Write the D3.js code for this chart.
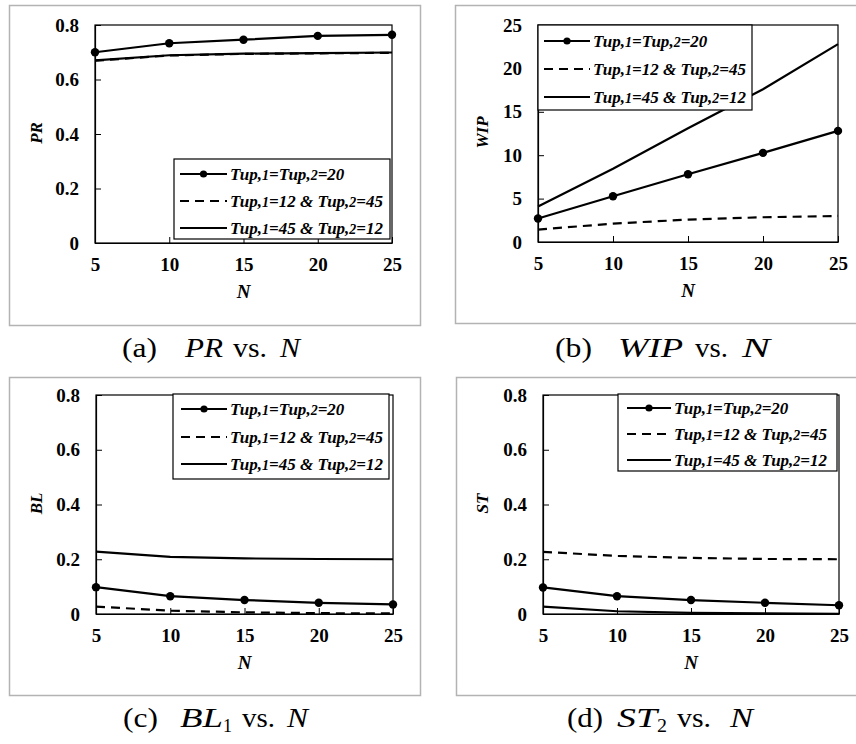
<!DOCTYPE html>
<html>
<head>
<meta charset="utf-8">
<script src="https://cdn.jsdelivr.net/npm/d3@7"></script>
<style>
  html, body { margin: 0; padding: 0; background: #fff; }
  svg { display: block; }
</style>
</head>
<body>
<svg id="chart" width="856" height="744"></svg>
<script>
// ---------- DATA ----------
const N = [5, 10, 15, 20, 25];
const seriesNames = ["Tup,1=Tup,2=20", "Tup,1=12 & Tup,2=45", "Tup,1=45 & Tup,2=12"];

const PR_equal = [0.700, 0.733, 0.746, 0.760, 0.764];
const PR_12_45 = [0.669, 0.688, 0.694, 0.696, 0.698];
const PR_45_12 = [0.670, 0.689, 0.695, 0.697, 0.699];

const WIP_equal = [2.7, 5.27, 7.8, 10.27, 12.8];
const WIP_12_45 = [1.43, 2.12, 2.58, 2.85, 3.0];
const WIP_45_12 = [4.1, 8.45, 13.1, 17.6, 22.8];

const BL_equal = [0.098, 0.065, 0.051, 0.041, 0.035];
const BL_12_45 = [0.027, 0.012, 0.006, 0.003, 0.002];
const BL_45_12 = [0.228, 0.209, 0.203, 0.201, 0.200];

const ST_equal = [0.097, 0.065, 0.051, 0.041, 0.032];
const ST_12_45 = [0.227, 0.212, 0.205, 0.201, 0.200];
const ST_45_12 = [0.027, 0.010, 0.004, 0.002, 0.001];

const yTicksSmall = [0, 0.2, 0.4, 0.6, 0.8];
const yTicksWIP = [0, 5, 10, 15, 20, 25];
const captionTexts = [
  ["(a)", "PR", "", "vs.", "N"],
  ["(b)", "WIP", "", "vs.", "N"],
  ["(c)", "BL", "1", "vs.", "N"],
  ["(d)", "ST", "2", "vs.", "N"]
];
const yTitles = ["PR", "WIP", "BL", "ST"];

// ---------- LAYOUT (pixel positions only) ----------
const panels = [
  {box: [9, 5, 411, 320], plot: [95, 25, 392, 243], yMax: 0.8, yTicks: yTicksSmall,
   data: [PR_equal, PR_12_45, PR_45_12], legend: [174, 159, 390, 239], legX: 180, leg: 227, rows: [174, 201, 228],
   capY: 357, capX: [[122, 35], [185, 38], null, [233, 34], [280, 20]], yTitleX: 42},
  {box: [455, 5, 410, 318], plot: [538, 25, 838, 242], yMax: 25, yTicks: yTicksWIP,
   data: [WIP_equal, WIP_12_45, WIP_45_12], legend: [538, 25, 752, 110], legX: 544, leg: 590, rows: [41, 69, 97],
   capY: 357, capX: [[555, 37], [618, 65], null, [695, 33], [742, 28]], yTitleX: 488},
  {box: [9, 377, 411, 318], plot: [96, 395, 393, 614], yMax: 0.8, yTicks: yTicksSmall,
   data: [BL_equal, BL_12_45, BL_45_12], legend: [173, 394, 389, 479], legX: 181, leg: 227, rows: [409, 437, 464],
   capY: 727, capX: [[123, 35], [180, 43], [223, 9], [242, 33], [287, 21]], yTitleX: 42},
  {box: [456, 377, 410, 318], plot: [543, 395, 839, 614], yMax: 0.8, yTicks: yTicksSmall,
   data: [ST_equal, ST_12_45, ST_45_12], legend: [618, 394, 837, 471], legX: 627, leg: 671, rows: [408, 434, 460],
   capY: 727, capX: [[567, 36], [617, 40], [657, 10], [677, 34], [730, 23]], yTitleX: 488}
];

const svg = d3.select("#chart");
const dashes = [null, "9,6", null];
const SERIF = "Liberation Serif";

function fmtTick(d, yMax) {
  if (yMax > 1) return String(d);
  return d === 0 ? "0" : d.toFixed(1);
}

function legendText(sel, name) {
  const parts = name.split(/(,[12])/);
  parts.forEach(p => {
    if (/^,[12]$/.test(p)) {
      sel.append("tspan").text(",");
      sel.append("tspan").style("font-size", "14px").text(p[1]);
    } else if (p) {
      sel.append("tspan").text(p);
    }
  });
}

panels.forEach((P, i) => {
  const g = svg.append("g");
  g.append("rect").attr("x", P.box[0] + 0.5).attr("y", P.box[1] + 0.5)
    .attr("width", P.box[2]).attr("height", P.box[3])
    .attr("fill", "none").attr("stroke", "#b3b3b3").attr("stroke-width", 1.5);

  const [x0, y0, x1, y1] = P.plot;
  const x = d3.scaleLinear().domain([5, 25]).range([x0, x1]);
  const y = d3.scaleLinear().domain([0, P.yMax]).range([y1, y0]);

  g.append("rect").attr("x", x0).attr("y", y0).attr("width", x1 - x0).attr("height", y1 - y0)
    .attr("fill", "none").attr("stroke", "#000").attr("stroke-width", 1.2);

  const xAxis = g.append("g").attr("transform", `translate(0,${y1})`)
    .call(d3.axisBottom(x).tickValues(N).tickSizeInner(-6).tickSizeOuter(0).tickPadding(15));
  const yAxis = g.append("g").attr("transform", `translate(${x0},0)`)
    .call(d3.axisLeft(y).tickValues(P.yTicks).tickFormat(d => fmtTick(d, P.yMax))
      .tickSizeInner(-6).tickSizeOuter(0).tickPadding(16));
  [xAxis, yAxis].forEach(a => {
    a.attr("font-family", null).attr("font-size", null);
    a.select(".domain").attr("stroke", "#000").attr("stroke-width", 1.2);
    a.selectAll(".tick line").attr("stroke", "#000").attr("stroke-width", 1);
    a.selectAll("text").style("font-family", SERIF).style("font-weight", "bold")
      .style("font-size", "19px").attr("fill", "#000");
  });

  g.append("text").attr("x", (x0 + x1) / 2).attr("y", y1 + 55)
    .attr("text-anchor", "middle").style("font-family", SERIF).style("font-weight", "bold")
    .style("font-style", "italic").style("font-size", "19px").text("N");
  g.append("text").attr("transform", `translate(${P.yTitleX},${(y0 + y1) / 2 - 1}) rotate(-90)`)
    .attr("text-anchor", "middle").style("font-family", SERIF).style("font-weight", "bold")
    .style("font-style", "italic").style("font-size", "17px").text(yTitles[i]);

  const line = d3.line().x((d, k) => x(N[k])).y(d => y(d));
  P.data.forEach((vals, s) => {
    g.append("path").datum(vals).attr("d", line)
      .attr("fill", "none").attr("stroke", "#000").attr("stroke-width", 2.2)
      .attr("stroke-dasharray", dashes[s]);
  });
  g.selectAll("circle.pt").data(P.data[0]).enter().append("circle")
    .attr("cx", (d, k) => x(N[k])).attr("cy", d => y(d)).attr("r", 4.2).attr("fill", "#000");

  const L = P.legend;
  g.append("rect").attr("x", L[0]).attr("y", L[1]).attr("width", L[2] - L[0]).attr("height", L[3] - L[1])
    .attr("fill", "#fff").attr("stroke", "#000").attr("stroke-width", 1.2);
  seriesNames.forEach((name, s) => {
    const ry = P.rows[s];
    g.append("line").attr("x1", P.legX).attr("x2", P.leg).attr("y1", ry).attr("y2", ry)
      .attr("stroke", "#000").attr("stroke-width", 2.2).attr("stroke-dasharray", dashes[s]);
    if (s === 0) g.append("circle").attr("cx", (P.legX + P.leg) / 2).attr("cy", ry).attr("r", 3.6).attr("fill", "#000");
    const t = g.append("text").attr("x", P.leg + 3).attr("y", ry + 6)
      .style("font-family", SERIF).style("font-weight", "bold").style("font-style", "italic")
      .style("font-size", "17px").attr("fill", "#000");
    legendText(t, name);
  });

  // caption pieces
  const parts = captionTexts[i];
  parts.forEach((txt, k) => {
    const pos = P.capX[k];
    if (!txt || !pos) return;
    const isSub = k === 2;
    g.append("text").attr("x", pos[0]).attr("y", P.capY + (isSub ? 5 : 0))
      .attr("textLength", pos[1]).attr("lengthAdjust", "spacingAndGlyphs")
      .style("font-family", SERIF)
      .style("font-style", (k === 1 || k === 4) ? "italic" : "normal")
      .style("font-size", isSub ? "19px" : "28px").attr("fill", "#000").text(txt);
  });
});
</script>
</body>
</html>
